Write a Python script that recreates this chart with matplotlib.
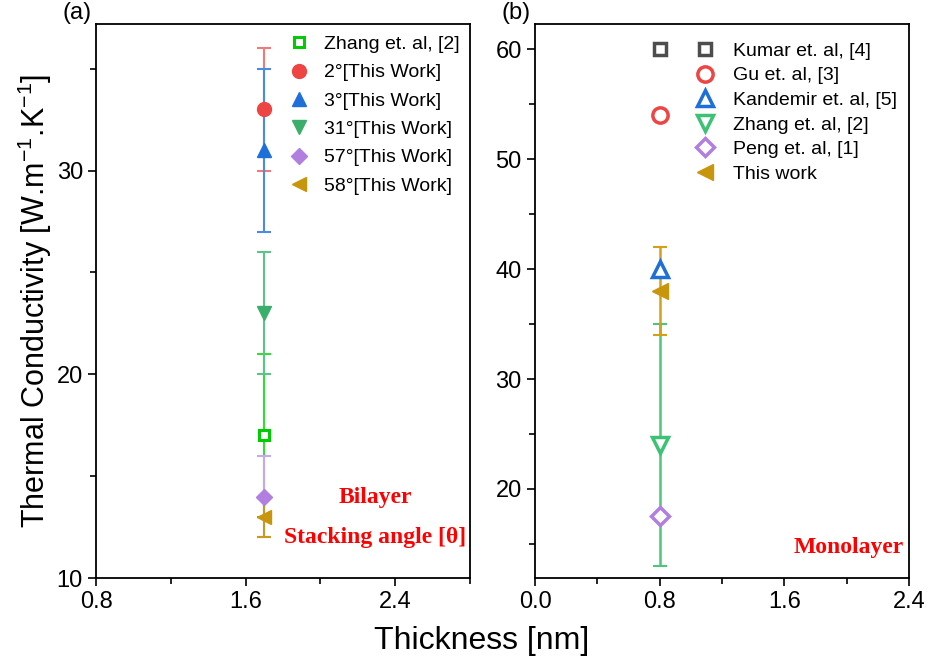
import matplotlib
matplotlib.use("Agg")
import matplotlib.pyplot as plt
from matplotlib.ticker import MultipleLocator

plt.rcParams['font.family'] = ['Liberation Sans', 'DejaVu Sans']
plt.rcParams['mathtext.fontset'] = 'custom'
plt.rcParams['mathtext.rm'] = 'Liberation Sans'
plt.rcParams['mathtext.it'] = 'Liberation Sans'
plt.rcParams['mathtext.bf'] = 'Liberation Sans:bold'

# ---------------- Panel (a) data : bilayer ----------------
a_labels = ["Zhang et. al, [2]", "2°[This Work]", "3°[This Work]",
            "31°[This Work]", "57°[This Work]", "58°[This Work]"]
a_x = [1.7, 1.7, 1.7, 1.7, 1.7, 1.7]
a_y = [17, 33, 31, 23, 14, 13]
a_err = [4, 3, 4, 3, 2, 1]
a_markers = ["s", "o", "^", "v", "D", "<"]
a_colors = ["#00CC00", "#EF4444", "#1F6FDB", "#3AAE6B", "#B07FE0", "#C8960C"]
a_errcolors = ["#33DD33", "#F07A7A", "#4A8BE8", "#5CC48A", "#C8A8E8", "#C89A20"]
a_filled = [False, True, True, True, True, True]

# ---------------- Panel (b) data : monolayer ----------------
b_labels = ["Kumar et. al, [4]", "Gu et. al, [3]", "Kandemir et. al, [5]",
            "Zhang et. al, [2]", "Peng et. al, [1]", "This work"]
b_x = [0.8, 0.8, 0.8, 0.8, 0.8, 0.8]
b_y = [60, 54, 40, 24, 17.5, 38]
b_err = [0, 0, 0, 11, 0, 4]
b_markers = ["s", "o", "^", "v", "D", "<"]
b_colors = ["#4D4D4D", "#EF4444", "#1F6FDB", "#3CC274", "#B07FE0", "#C8960C"]
b_errcolors = ["#4D4D4D", "#EF4444", "#1F6FDB", "#4CC77A", "#B07FE0", "#D4A017"]
b_filled = [False, False, False, False, False, True]

fig = plt.figure(figsize=(9.35, 6.66), dpi=100)
axA = fig.add_axes([0.1027, 0.1321, 0.400, 0.832])
axB = fig.add_axes([0.5722, 0.1321, 0.400, 0.832])

# ---- panel a ----
order_a = [0, 3, 4, 5, 1, 2]
for i in order_a:
    axA.errorbar(a_x[i], a_y[i], yerr=a_err[i], fmt='none',
                 ecolor=a_errcolors[i], elinewidth=1.5, capsize=5, capthick=1.5, zorder=2)
handles_a = []
for i in range(len(a_y)):
    if a_filled[i]:
        h, = axA.plot(a_x[i], a_y[i], linestyle='none', marker=a_markers[i],
                      ms=10 if a_markers[i] != 'D' else 8, color=a_colors[i],
                      mec=a_colors[i], label=a_labels[i], zorder=3)
    else:
        h, = axA.plot(a_x[i], a_y[i], linestyle='none', marker=a_markers[i],
                      ms=7, mfc='white', mec=a_colors[i], mew=2.2,
                      label=a_labels[i], zorder=3)
    handles_a.append(h)

axA.set_xlim(0.8, 2.8)
axA.set_ylim(10, 37.2)
axA.xaxis.set_minor_locator(MultipleLocator(0.4))
axA.yaxis.set_major_locator(MultipleLocator(10))
axA.yaxis.set_minor_locator(MultipleLocator(5))
axA.set_xticks([0.8, 1.6, 2.4])
axA.set_xticklabels(["0.8", "1.6", "2.4"])
axA.legend(handles=handles_a, loc='upper left', bbox_to_anchor=(0.48, 1.0),
           frameon=False, fontsize=14, handletextpad=0.7, labelspacing=0.55,
           handlelength=1.2, borderaxespad=0.2)
axA.text(0.748, 0.145, "Bilayer", transform=axA.transAxes, color='red',
         fontsize=17, fontweight='bold', family='Liberation Serif', ha='center', va='center')
axA.text(0.745, 0.073, "Stacking angle [θ]", transform=axA.transAxes, color='red',
         fontsize=17, fontweight='bold', family='Liberation Serif', ha='center', va='center')
axA.text(-0.05, 1.0, "(a)", transform=axA.transAxes, fontsize=17, ha='center', va='bottom')
axA.set_ylabel("Thermal Conductivity [W.m$^{-1}$.K$^{-1}$]", fontsize=22, labelpad=2)

# ---- panel b ----
for i in range(len(b_y)):
    if b_err[i] > 0:
        axB.errorbar(b_x[i], b_y[i], yerr=b_err[i], fmt='none',
                     ecolor=b_errcolors[i], elinewidth=1.8, capsize=5, capthick=1.5, zorder=2)
handles_b = []
for i in range(len(b_y)):
    ms = 11 if b_markers[i] != 'D' else 9
    if b_filled[i]:
        h, = axB.plot(b_x[i], b_y[i], linestyle='none', marker=b_markers[i],
                      ms=ms, color=b_colors[i], label=b_labels[i], zorder=3)
    else:
        h, = axB.plot(b_x[i], b_y[i], linestyle='none', marker=b_markers[i],
                      ms=ms if b_markers[i] != 's' else 8, mfc='white', mec=b_colors[i], mew=2.5,
                      label=b_labels[i], zorder=3)
    handles_b.append(h)

axB.set_xlim(0.0, 2.4)
axB.set_ylim(11.9, 62.3)
axB.set_xticks([0.0, 0.8, 1.6, 2.4])
axB.set_xticklabels(["0.0", "0.8", "1.6", "2.4"])
axB.xaxis.set_minor_locator(MultipleLocator(0.4))
axB.yaxis.set_major_locator(MultipleLocator(10))
axB.yaxis.set_minor_locator(MultipleLocator(5))
axB.legend(handles=handles_b, loc='upper left', bbox_to_anchor=(0.39, 0.99),
           frameon=False, fontsize=14, handletextpad=0.85, labelspacing=0.36,
           handlelength=1.2, borderaxespad=0.25)
axB.text(0.84, 0.055, "Monolayer", transform=axB.transAxes, color='red',
         fontsize=17, fontweight='bold', family='Liberation Serif', ha='center', va='center')
axB.text(-0.05, 1.0, "(b)", transform=axB.transAxes, fontsize=17, ha='center', va='bottom')

for ax in (axA, axB):
    for s in ax.spines.values():
        s.set_linewidth(1.3)
    ax.tick_params(which='major', direction='out', length=6, width=1.2, labelsize=17,
                   top=False, right=False)
    ax.tick_params(which='minor', direction='out', length=4, width=1.2, top=False, right=False)

fig.text(0.515, 0.037, "Thickness [nm]", fontsize=23, ha='center', va='center')

fig.savefig("out.png", dpi=100)
